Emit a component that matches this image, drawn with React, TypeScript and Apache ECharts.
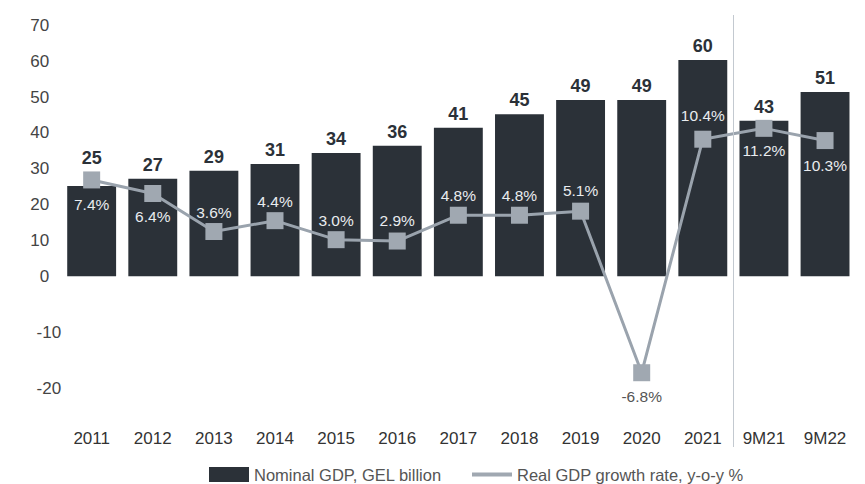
import React, { useEffect, useRef } from "react";
import * as echarts from "echarts";

const categories = ["2011", "2012", "2013", "2014", "2015", "2016", "2017", "2018", "2019", "2020", "2021", "9M21", "9M22"];
const nominalGdp = [25.2, 27.2, 29.4, 31.3, 34.4, 36.4, 41.4, 45.2, 49.2, 49.2, 60.3, 43.4, 51.4];
const realGrowth = [7.4, 6.4, 3.6, 4.4, 3.0, 2.9, 4.8, 4.8, 5.1, -6.8, 10.4, 11.2, 10.3];
const seriesNames = ["Nominal GDP, GEL billion", "Real GDP growth rate, y-o-y %"];
// position of the annual / nine-month divider, in category units
const dividerAt = [11];

const FONT = "'Liberation Sans', Arial, Helvetica, sans-serif";

// label placement for growth points (style only)
const growthLabelStyle: { pos: "top" | "bottom"; dist: number }[] = [
  { pos: "bottom", dist: 8 },
  { pos: "bottom", dist: 6 },
  { pos: "top", dist: 3 },
  { pos: "top", dist: 3 },
  { pos: "top", dist: 3 },
  { pos: "top", dist: 4 },
  { pos: "top", dist: 3 },
  { pos: "top", dist: 3 },
  { pos: "top", dist: 4 },
  { pos: "bottom", dist: 7 },
  { pos: "top", dist: 7 },
  { pos: "bottom", dist: 6 },
  { pos: "bottom", dist: 8 },
];

export default function App() {
  const ref = useRef<HTMLDivElement>(null);
  useEffect(() => {
    if (!ref.current) return;
    const chart = echarts.init(ref.current, undefined, { renderer: "svg" });
    const gridLR = { left: 61.1, right: 9.4 };
    chart.setOption({
      animation: false,
      textStyle: { fontFamily: FONT },
      grid: [
        { ...gridLR, top: 25.3, bottom: 64.3 },
        { ...gridLR, top: 277.1, bottom: 95.7 },
        { ...gridLR, top: 15, bottom: 37 },
      ],
      xAxis: [
        {
          type: "category",
          gridIndex: 0,
          data: categories,
          axisLine: { show: false },
          axisTick: { show: false },
          axisLabel: { color: "#333", fontSize: 17, margin: 10, interval: 0 },
        },
        {
          type: "category",
          gridIndex: 1,
          data: categories,
          show: false,
        },
        {
          type: "value",
          gridIndex: 2,
          min: 0,
          max: categories.length,
          show: false,
          splitLine: { show: false },
        },
      ],
      yAxis: [
        {
          type: "value",
          gridIndex: 0,
          min: -40,
          max: 70,
          interval: 10,
          axisLine: { show: false },
          axisTick: { show: false },
          splitLine: { show: false },
          axisLabel: {
            color: "#444",
            fontSize: 17,
            margin: 12,
            formatter: (v: number) => (v >= 0 ? String(v) : ""),
          },
        },
        {
          type: "value",
          gridIndex: 0,
          min: -10.26,
          max: 18.79,
          show: false,
          splitLine: { show: false },
        },
        {
          type: "value",
          gridIndex: 1,
          min: -20,
          max: 0,
          interval: 10,
          axisLine: { show: false },
          axisTick: { show: false },
          splitLine: { show: false },
          axisLabel: {
            color: "#444",
            fontSize: 17,
            margin: 0,
            formatter: (v: number) => (v < 0 ? String(v) : ""),
          },
        },
        {
          type: "value",
          gridIndex: 2,
          min: 0,
          max: 1,
          show: false,
          splitLine: { show: false },
        },
      ],
      legend: [
        {
          data: [seriesNames[0]],
          left: 204,
          top: 461,
          itemWidth: 40,
          itemHeight: 15,
          itemGap: 0,
          icon: "rect",
          textStyle: { color: "#555", fontSize: 16.5, fontFamily: FONT },
        },
        {
          data: [seriesNames[1]],
          left: 467,
          top: 461,
          itemWidth: 40,
          itemHeight: 4,
          icon: "rect",
          textStyle: { color: "#555", fontSize: 16.5, fontFamily: FONT },
        },
      ],
      series: [
        {
          name: seriesNames[0],
          type: "bar",
          xAxisIndex: 0,
          yAxisIndex: 0,
          barWidth: "80%",
          itemStyle: { color: "#2b3138" },
          data: nominalGdp.map((v, i) =>
            i === 0 ? { value: v, label: { distance: 19 } } : v
          ),
          label: {
            show: true,
            position: "top",
            distance: 5,
            color: "#2b3138",
            fontWeight: "bold",
            fontSize: 18,
            formatter: (p: any) => String(Math.round(p.value)),
          },
          z: 2,
        },
        {
          name: seriesNames[1],
          type: "line",
          xAxisIndex: 0,
          yAxisIndex: 1,
          symbol: "rect",
          symbolSize: 17,
          lineStyle: { color: "#9aa3ad", width: 3 },
          itemStyle: { color: "#a0a8b1" },
          data: realGrowth.map((v, i) => ({
            value: v,
            label: {
              position: growthLabelStyle[i].pos,
              distance: growthLabelStyle[i].dist,
              color: v < 0 ? "#555" : "#e9ecef",
            },
          })),
          label: {
            show: true,
            fontSize: 15.5,
            formatter: (p: any) => Number(p.value).toFixed(1) + "%",
          },
          z: 3,
        },
        {
          name: "divider",
          type: "line",
          xAxisIndex: 2,
          yAxisIndex: 3,
          data: [],
          silent: true,
          markLine: {
            silent: true,
            symbol: "none",
            label: { show: false },
            lineStyle: { color: "#c3c9d0", width: 1, type: "solid" },
            data: dividerAt.map((x) => ({ xAxis: x })),
          },
        },
      ],
    });
    return () => chart.dispose();
  }, []);
  return (
    <div
      ref={ref}
      style={{ position: "absolute", left: 0, top: 0, width: 865, height: 484, background: "#fff" }}
    />
  );
}
